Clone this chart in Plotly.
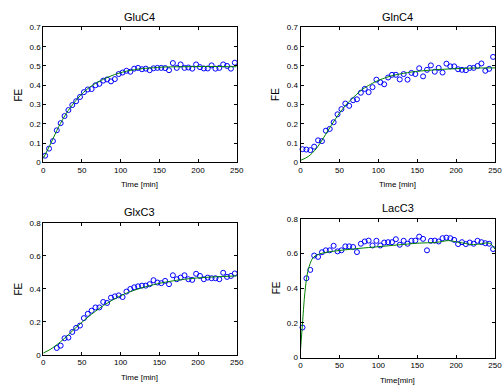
import plotly.graph_objects as go

# ---------------- data ----------------
t_full = [2.5 + 5 * k for k in range(50)]
t_glx = [17.5 + 5 * k for k in range(47)]

glu_c4 = [0.034, 0.071, 0.11, 0.166, 0.203, 0.24, 0.271, 0.297, 0.317, 0.339,
          0.364, 0.378, 0.38, 0.40, 0.407, 0.424, 0.43, 0.42, 0.432, 0.458,
          0.466, 0.475, 0.47, 0.486, 0.49, 0.483, 0.486, 0.478, 0.488, 0.49,
          0.49, 0.489, 0.478, 0.515, 0.49, 0.508, 0.49, 0.492, 0.486, 0.508,
          0.494, 0.487, 0.487, 0.503, 0.486, 0.49, 0.508, 0.50, 0.486, 0.517]

gln_c4 = [0.068, 0.066, 0.063, 0.081, 0.114, 0.11, 0.164, 0.173, 0.208, 0.249,
          0.276, 0.305, 0.293, 0.322, 0.327, 0.361, 0.381, 0.364, 0.39, 0.429,
          0.415, 0.405, 0.44, 0.454, 0.454, 0.43, 0.458, 0.429, 0.464, 0.458,
          0.488, 0.446, 0.48, 0.503, 0.47, 0.49, 0.466, 0.512, 0.498, 0.498,
          0.483, 0.48, 0.478, 0.49, 0.49, 0.5, 0.513, 0.475, 0.485, 0.547]

glx_c3 = [0.041, 0.055, 0.1, 0.104, 0.138, 0.163, 0.177, 0.222, 0.248, 0.267,
          0.287, 0.287, 0.32, 0.314, 0.346, 0.354, 0.36, 0.35, 0.383, 0.399,
          0.409, 0.415, 0.419, 0.419, 0.428, 0.452, 0.438, 0.434, 0.448, 0.428,
          0.482, 0.458, 0.468, 0.482, 0.458, 0.454, 0.491, 0.478, 0.458, 0.468,
          0.464, 0.464, 0.458, 0.497, 0.472, 0.478, 0.493]

lac_c3 = [0.174, 0.458, 0.506, 0.589, 0.581, 0.608, 0.619, 0.619, 0.645, 0.613,
          0.619, 0.642, 0.642, 0.638, 0.609, 0.657, 0.67, 0.675, 0.647, 0.674,
          0.647, 0.664, 0.666, 0.666, 0.683, 0.651, 0.674, 0.657, 0.674, 0.675,
          0.698, 0.685, 0.619, 0.674, 0.675, 0.67, 0.689, 0.692, 0.689, 0.679,
          0.655, 0.666, 0.655, 0.664, 0.657, 0.674, 0.666, 0.66, 0.657, 0.626]

# fitted curves
fit_t_a = [0, 10, 20, 30, 40, 50, 60, 70, 80, 90, 100, 110, 120, 130, 140, 150,
           160, 180, 200, 220, 250]
glu_fit = [0.02, 0.10, 0.185, 0.255, 0.31, 0.355, 0.39, 0.415, 0.435, 0.452,
           0.465, 0.475, 0.482, 0.487, 0.49, 0.493, 0.495, 0.496, 0.497, 0.497, 0.496]
gln_fit = [0.01, 0.03, 0.07, 0.13, 0.195, 0.255, 0.305, 0.345, 0.38, 0.405,
           0.425, 0.44, 0.452, 0.46, 0.467, 0.472, 0.476, 0.482, 0.486, 0.489, 0.49]

fit_t_glx = [0, 10, 20, 30, 40, 50, 60, 70, 80, 90, 100, 110, 120, 130, 140, 150,
             160, 170, 180, 190, 200, 220, 250]
glx_fit = [0.01, 0.035, 0.07, 0.11, 0.155, 0.197, 0.237, 0.272, 0.305, 0.333,
           0.358, 0.378, 0.395, 0.41, 0.422, 0.433, 0.442, 0.45, 0.456, 0.462,
           0.466, 0.472, 0.478]

fit_t_lac = [0, 2.5, 5, 7.5, 10, 15, 20, 30, 50, 75, 100, 125, 150, 175, 190,
             200, 210, 220, 230, 240, 245, 250]
lac_fit = [0.05, 0.2, 0.35, 0.45, 0.51, 0.57, 0.59, 0.605, 0.618, 0.63, 0.64,
           0.65, 0.66, 0.665, 0.675, 0.668, 0.66, 0.652, 0.655, 0.662, 0.655, 0.625]

titles = ["GluC4", "GlnC4", "GlxC3", "LacC3"]
xlabels = ["Time [min]", "Time [min]", "Time [min]", "Time[min]"]

# ---------------- layout ----------------
W, H = 504, 391
# panel boxes in pixels: (left, right, top, bottom)
boxes = [(42, 239, 24, 162), (304, 502, 24, 162),
         (42, 239, 224, 359), (304, 502, 220, 362)]
yranges = [[0, 0.7], [0, 0.7], [0, 0.8], [0, 0.8]]
ydt = [0.1, 0.1, 0.2, 0.2]

panels = [
    (t_full, glu_c4, fit_t_a, glu_fit),
    (t_full, gln_c4, fit_t_a, gln_fit),
    (t_glx, glx_c3, fit_t_glx, glx_fit),
    (t_full, lac_c3, fit_t_lac, lac_fit),
]

fig = go.Figure()
font = "Liberation Sans, Arial, sans-serif"
annotations = []

for i, (tx, ty, ft, fy) in enumerate(panels):
    n = "" if i == 0 else str(i + 1)
    xa, ya = "x" + n, "y" + n
    fig.add_trace(go.Scatter(x=tx, y=ty, mode="markers", xaxis=xa, yaxis=ya,
                             marker=dict(symbol="circle-open", size=5,
                                         color="#0000ff", line=dict(width=1)),
                             showlegend=False, cliponaxis=False))
    fig.add_trace(go.Scatter(x=ft, y=fy, mode="lines", xaxis=xa, yaxis=ya,
                             line=dict(color="#008000", width=1, shape="spline",
                                       smoothing=0.8),
                             showlegend=False))
    l, r, t, b = boxes[i]
    axcommon = dict(showline=True, linecolor="black", linewidth=1, mirror="ticks",
                    ticks="inside", ticklen=3, tickcolor="black", showgrid=False,
                    zeroline=False, tickfont=dict(family=font, size=8, color="black"))
    fig.update_layout(**{
        "xaxis" + n: dict(domain=[l / W, r / W], range=[0, 250], tick0=0, dtick=50,
                          anchor=ya, **axcommon),
        "yaxis" + n: dict(domain=[1 - b / H, 1 - t / H], range=yranges[i], tick0=0,
                          dtick=ydt[i], anchor=xa, **axcommon),
    })
    cx = (l + r) / 2
    annotations.append(dict(text=titles[i], x=cx / W, y=1 - (t - 11) / H,
                            xref="paper", yref="paper", showarrow=False,
                            xanchor="center", yanchor="middle",
                            font=dict(family=font, size=11, color="black")))
    annotations.append(dict(text=xlabels[i], x=cx / W, y=1 - (b + 23) / H,
                            xref="paper", yref="paper", showarrow=False,
                            xanchor="center", yanchor="middle",
                            font=dict(family=font, size=8, color="black")))
    annotations.append(dict(text="FE", x=(l - 25) / W, y=1 - ((t + b) / 2) / H,
                            xref="paper", yref="paper", showarrow=False,
                            textangle=-90, xanchor="center", yanchor="middle",
                            font=dict(family=font, size=10, color="black")))

fig.update_layout(width=W, height=H, margin=dict(l=0, r=0, t=0, b=0),
                  paper_bgcolor="white", plot_bgcolor="white",
                  annotations=annotations)

fig.write_html("out.html",
               config={"displayModeBar": False},
               post_script="document.body.style.margin='0px';"
                           "document.body.style.overflow='hidden';")
